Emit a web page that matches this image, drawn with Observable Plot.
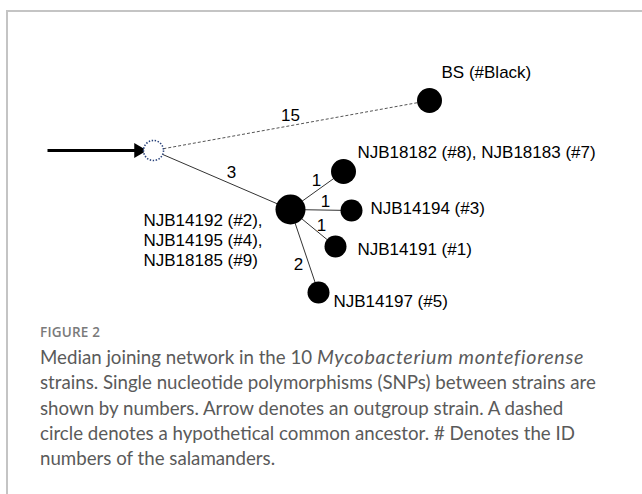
<!DOCTYPE html>
<html>
<head>
<meta charset="utf-8">
<script src="https://cdn.jsdelivr.net/npm/d3@7"></script>
<script src="https://cdn.jsdelivr.net/npm/@observablehq/plot@0.6"></script>
<style>
  html, body { margin: 0; padding: 0; background: #fff; width: 642px; height: 494px; overflow: hidden; }
  #frame { position: absolute; left: 6px; top: 10px; width: 700px; height: 600px;
           border-top: 2px solid #c4c4c4; border-left: 2px solid #c4c4c4; }
  #chart { position: absolute; left: 0; top: 0; }
  #fig { position: absolute; left: 40px; top: 323px; font-family: "Open Sans", sans-serif;
         font-size: 13.5px; font-weight: 600; color: #7a7a7a; letter-spacing: 0.2px; }
  #cap { position: absolute; left: 40px; top: 344px; font-family: Lato, "Open Sans", sans-serif;
         font-size: 18.7px; line-height: 25.3px; color: #5a5a5a; font-weight: 400; white-space: nowrap; }
  #cap i { font-size: 1.05em; letter-spacing: 0.7px; }
</style>
</head>
<body>
<div id="frame"></div>
<div id="chart"></div>
<div id="fig">FIGURE 2</div>
<div id="cap">Median joining network in the 10 <i>Mycobacterium montefiorense</i><br>strains. Single nucleotide polymorphisms (SNPs) between strains are<br>shown by numbers. Arrow denotes an outgroup strain. A dashed<br>circle denotes a hypothetical common ancestor. # Denotes the ID<br>numbers of the salamanders.</div>
<script>
// Network layout (layout units)
const nodeIds = ["anc", "BS", "hub", "n87", "n3", "n1", "n5"];
const nodeX   = [153, 429, 290, 343, 351, 335, 318];
const nodeY   = [150, 100, 209, 171, 210, 246, 292];
const nodeR   = [10, 12.5, 15, 12.5, 11, 11, 11];
const nodeLabels = ["", "BS (#Black)", "NJB14192 (#2),\nNJB14195 (#4),\nNJB18185 (#9)",
                    "NJB18182 (#8), NJB18183 (#7)", "NJB14194 (#3)", "NJB14191 (#1)", "NJB14197 (#5)"];
const labelX  = [0, 441, 143, 357, 370, 357, 333];
const labelY  = [0, 71, 239, 151, 207, 248, 300];

// Edges: source, target, SNP count, label position
const edgeFrom = ["anc", "anc", "hub", "hub", "hub", "hub"];
const edgeTo   = ["BS", "hub", "n87", "n3", "n1", "n5"];
const edgeSNPs = ["15", "3", "1", "1", "1", "2"];
const edgeDashed = [true, false, false, false, false, false];
const edgeLabX = [290, 231, 316, 325, 321, 298];
const edgeLabY = [115, 172, 180, 201, 225, 264];

// Outgroup arrow (shaft and head)
const arrowShaft = [{x1: 47, y1: 150, x2: 136, y2: 150}];
const arrowHead = [{x: 138, y: 150}];

const nodes = nodeIds.map((id, i) => ({id, x: nodeX[i], y: nodeY[i], r: nodeR[i], label: nodeLabels[i], lx: labelX[i], ly: labelY[i]}));
const byId = Object.fromEntries(nodes.map(n => [n.id, n]));
const edges = edgeFrom.map((s, i) => ({
  x1: byId[s].x, y1: byId[s].y, x2: byId[edgeTo[i]].x, y2: byId[edgeTo[i]].y,
  snps: edgeSNPs[i], dashed: edgeDashed[i], lx: edgeLabX[i], ly: edgeLabY[i]
}));

const W = 642, H = 320;
const font = "Liberation Sans, Arial, sans-serif";

const plot = Plot.plot({
  width: W, height: H,
  margin: 0,
  x: {domain: [0, W], range: [0, W], axis: null},
  y: {domain: [0, H], range: [0, H], axis: null},
  r: {type: "identity"},
  style: {background: "transparent", fontFamily: font},
  marks: [
    Plot.link(edges.filter(d => d.dashed), {x1: "x1", y1: "y1", x2: "x2", y2: "y2",
      stroke: "#555", strokeWidth: 1, strokeDasharray: "3,2"}),
    Plot.link(edges.filter(d => !d.dashed), {x1: "x1", y1: "y1", x2: "x2", y2: "y2",
      stroke: "#333", strokeWidth: 1}),
    Plot.link(arrowShaft, {x1: "x1", y1: "y1", x2: "x2", y2: "y2", stroke: "#000", strokeWidth: 3}),
    Plot.dot(arrowHead, {x: "x", y: "y", r: 5.5, symbol: "triangle", rotate: 90, fill: "#000", stroke: "none"}),
    Plot.dot(nodes.filter(d => d.id === "anc"), {x: "x", y: "y", r: "r",
      fill: "#fff", stroke: "#27407a", strokeWidth: 1.6, strokeDasharray: "1.4,1.6"}),
    Plot.dot(nodes.filter(d => d.id !== "anc"), {x: "x", y: "y", r: "r", fill: "#000", stroke: "none"}),
    Plot.text(nodes.filter(d => d.label), {x: "lx", y: "ly", text: "label",
      textAnchor: "start", fontSize: 17, lineHeight: 1.18, fill: "#000"}),
    Plot.text(edges, {x: "lx", y: "ly", text: "snps", fontSize: 17, fill: "#000"})
  ]
});
document.getElementById("chart").appendChild(plot);
</script>
</body>
</html>
